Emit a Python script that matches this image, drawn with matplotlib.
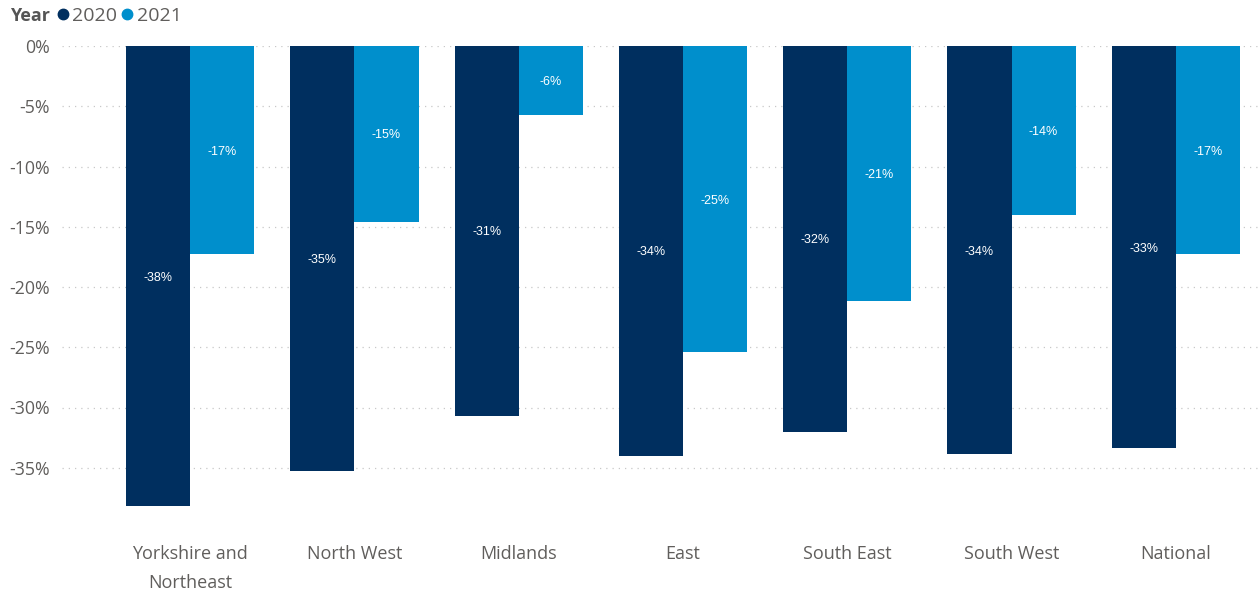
import numpy as np
import matplotlib.pyplot as plt
from matplotlib.lines import Line2D

regions = ['Yorkshire and\nNortheast', 'North West', 'Midlands', 'East',
           'South East', 'South West', 'National']
change_2020 = [-38.2, -35.3, -30.7, -34.0, -32.0, -33.9, -33.4]
change_2021 = [-17.3, -14.6, -5.7, -25.4, -21.2, -14.0, -17.3]
y_ticks = [0, -5, -10, -15, -20, -25, -30, -35]

navy = '#002f5f'
blue = '#008fcc'
grey_text = '#605e5c'

plt.rcParams['font.family'] = ['Open Sans', 'DejaVu Sans']

fig = plt.figure(figsize=(12.6, 5.92), dpi=100)
ax = fig.add_axes([62 / 1260, 1 - 528 / 592, 1196 / 1260, 482 / 592])

x = np.arange(len(regions))
w = 0.39
bars20 = ax.bar(x - w / 2, change_2020, width=w, color=navy, zorder=2)
bars21 = ax.bar(x + w / 2, change_2021, width=w, color=blue, zorder=2)

# value labels sit in the middle of each bar
for bars, vals in [(bars20, change_2020), (bars21, change_2021)]:
    for b, v in zip(bars, vals):
        ax.text(b.get_x() + b.get_width() / 2, v / 2, f'{v:.0f}%',
                ha='center', va='center_baseline', color='white', fontsize=9,
                family='Liberation Sans', zorder=3)

ax.set_xlim(-0.78, len(regions) - 0.5)
ax.set_ylim(-40, 0)
ax.set_yticks(y_ticks)
ax.set_yticklabels([f'{t}%' for t in y_ticks])
ax.set_xticks(x)
ax.set_xticklabels(regions, linespacing=1.8)
ax.tick_params(axis='both', length=0, colors=grey_text)
ax.tick_params(axis='y', pad=9, labelsize=12.8)
ax.tick_params(axis='x', pad=12, labelsize=13)
ax.yaxis.grid(True, linestyle=(0, (1, 4)), color='#c8c8c8', linewidth=0.9, zorder=0)
for s in ax.spines.values():
    s.set_visible(False)

# legend strip across the top
fig.text(10 / 1260, 1 - 16 / 592, 'Year', fontsize=13, fontweight='bold',
         color='#555555', va='center', ha='left')
handles = [Line2D([], [], marker='o', linestyle='', color=navy, markersize=7.5),
           Line2D([], [], marker='o', linestyle='', color=blue, markersize=7.5)]
fig.legend(handles, ['2020', '2021'], loc='center left',
           bbox_to_anchor=(53 / 1260, 1 - 16 / 592), ncol=2, frameon=False,
           handletextpad=0.0, columnspacing=0.0, handlelength=1.0,
           fontsize=14, labelcolor=grey_text, borderaxespad=0, borderpad=0)

fig.savefig('out.png', dpi=100)
